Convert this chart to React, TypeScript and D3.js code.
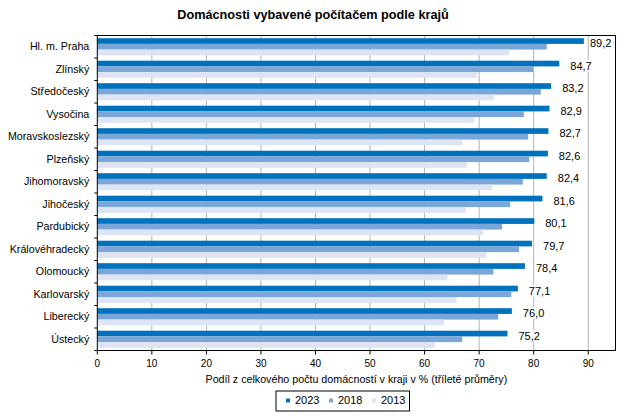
import React from "react";
import * as d3 from "d3";

const categories = [
  "Hl. m. Praha", "Zlínský", "Středočeský", "Vysočina", "Moravskoslezský", "Plzeňský",
  "Jihomoravský", "Jihočeský", "Pardubický", "Královéhradecký", "Olomoucký",
  "Karlovarský", "Liberecký", "Ústecký",
];
const v2023 = [89.2, 84.7, 83.2, 82.9, 82.7, 82.6, 82.4, 81.6, 80.1, 79.7, 78.4, 77.1, 76.0, 75.2];
const v2018 = [82.4, 79.9, 81.3, 78.2, 79.0, 79.2, 78.0, 75.7, 74.2, 77.3, 72.6, 75.9, 73.5, 66.9];
const v2013 = [75.5, 69.6, 72.7, 69.1, 66.9, 67.8, 72.4, 67.6, 70.7, 71.3, 64.2, 65.9, 63.6, 61.9];
const seriesNames = ["2023", "2018", "2013"];
const xTicks = [0, 10, 20, 30, 40, 50, 60, 70, 80, 90];
const title = "Domácnosti vybavené počítačem podle krajů";
const xTitle = "Podíl z celkového počtu domácností v kraji v % (tříleté průměry)";

const colors = ["#0071BC", "#7BA6D8", "#DDE4F4"];
const FONT = "Liberation Sans, Arial, sans-serif";

export default function App() {
  const W = 626, H = 417;
  const left = 97.3, right = 615.5, top = 35.5, bottom = 350.5;
  const x = d3.scaleLinear().domain([0, 95]).range([left, right]);
  const y = d3.scaleBand<string>().domain(categories).range([top, bottom]).padding(0);
  const step = y.step();
  const inner = d3.scaleBand<string>().domain(seriesNames).range([step * 0.12, step * 0.88]).padding(0);
  const series = [v2023, v2018, v2013];
  const fmt = (v: number) => v.toFixed(1).replace(".", ",");

  return (
    <svg width={W} height={H} style={{ position: "absolute", left: 0, top: 0, background: "#fff" }} fontFamily={FONT}>
      <rect x={0} y={0} width={W} height={H} fill="#fff" />
      <text x={313} y={19} textAnchor="middle" fontSize={12.7} fontWeight="bold" fill="#000">{title}</text>
      {/* gridlines */}
      {xTicks.filter((t) => t > 0).map((t) => (
        <line key={"g" + t} x1={x(t)} x2={x(t)} y1={top} y2={bottom} stroke="#B3B3B3" strokeWidth={1} />
      ))}
      {/* bars */}
      {categories.map((c, i) => (
        <g key={c}>
          {series.map((s, j) => (
            <rect key={j} x={x(0)} y={(y(c) as number) + (inner(seriesNames[j]) as number)}
              width={x(s[i]) - x(0)} height={inner.bandwidth()} fill={colors[j]} />
          ))}
        </g>
      ))}
      {/* labels */}
      {categories.map((c, i) => {
        const tx = Math.min(x(v2023[i]) + 11, 590);
        const ty = (y(c) as number) + 7.8;
        return (
          <g key={"l" + c}>
            <rect x={tx - 1} y={ty - 6} width={24} height={12} fill="#fff" />
            <text x={tx} y={ty} dy="0.35em" fontSize={11} fill="#000">{fmt(v2023[i])}</text>
          </g>
        );
      })}
      {/* plot border */}
      <rect x={left} y={top} width={right - left} height={bottom - top} fill="none" stroke="#000" strokeWidth={1} />
      {/* y ticks */}
      {d3.range(categories.length + 1).map((k) => (
        <line key={"yt" + k} x1={left - 3} x2={left} y1={top + k * step} y2={top + k * step} stroke="#000" />
      ))}
      {categories.map((c) => (
        <text key={"yl" + c} x={left - 8} y={(y(c) as number) + step / 2} dy="0.35em" textAnchor="end" fontSize={10.7} fill="#000">{c}</text>
      ))}
      {/* x ticks */}
      {xTicks.map((t) => (
        <g key={"xt" + t}>
          <line x1={x(t)} x2={x(t)} y1={bottom} y2={bottom + 4} stroke="#000" />
          <text x={x(t)} y={366.7} textAnchor="middle" fontSize={10} fill="#000">{t}</text>
        </g>
      ))}
      <text x={(left + right) / 2} y={382.5} textAnchor="middle" fontSize={10.7} fill="#000">{xTitle}</text>
      {/* legend */}
      <g>
        <rect x={276} y={391} width={133.5} height={20} fill="#fff" stroke="#000" />
        {seriesNames.map((s, j) => {
          const lx = 286 + j * 43;
          return (
            <g key={"lg" + s}>
              <rect x={lx} y={398.5} width={4} height={4} fill={colors[j]} />
              <text x={lx + 9} y={404.3} fontSize={11} fill="#000">{s}</text>
            </g>
          );
        })}
      </g>
    </svg>
  );
}
